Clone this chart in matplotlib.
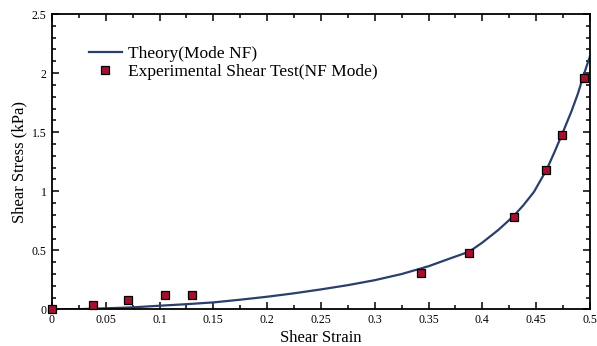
import matplotlib
matplotlib.use("Agg")
import matplotlib.pyplot as plt
from matplotlib.ticker import MultipleLocator, FormatStrFormatter

# theory curve
theory_strain = [0, 0.025, 0.05, 0.075, 0.1, 0.125, 0.15, 0.175, 0.2, 0.225, 0.25, 0.275,
                 0.3, 0.325, 0.35, 0.367, 0.388, 0.400, 0.415, 0.429, 0.438, 0.448, 0.460,
                 0.467, 0.474, 0.483, 0.489, 0.493, 0.497, 0.5]
theory_stress = [0, 0.003, 0.01, 0.018, 0.032, 0.045, 0.060, 0.083, 0.108, 0.137, 0.17, 0.206,
                 0.248, 0.30, 0.366, 0.422, 0.49, 0.566, 0.674, 0.79, 0.88, 0.995, 1.187,
                 1.33, 1.48, 1.68, 1.83, 1.95, 2.06, 2.14]

# experimental shear test points
exp_strain = [0, 0.038, 0.071, 0.105, 0.130, 0.343, 0.388, 0.429, 0.4595, 0.474, 0.4946]
exp_stress = [0, 0.04, 0.08, 0.124, 0.124, 0.305, 0.476, 0.779, 1.179, 1.48, 1.958]

plt.rcParams["font.family"] = ["Liberation Serif", "DejaVu Serif"]

fig = plt.figure(figsize=(5.97, 3.46), dpi=100)
ax = fig.add_axes([0.0871, 0.1055, 0.901, 0.854])

ax.plot(theory_strain, theory_stress, color="#2b3f6b", lw=1.6, label="Theory(Mode NF)", zorder=2)
ax.plot(exp_strain, exp_stress, ls="none", marker="s", ms=6, mfc="#a3112e", mec="black",
        mew=0.9, label="Experimental Shear Test(NF Mode)", zorder=3, clip_on=False)

ax.set_xlim(0, 0.5)
ax.set_ylim(0, 2.5)
ax.xaxis.set_major_locator(MultipleLocator(0.05))
ax.xaxis.set_minor_locator(MultipleLocator(0.025))
ax.yaxis.set_major_locator(MultipleLocator(0.5))
ax.yaxis.set_minor_locator(MultipleLocator(0.1))
ax.xaxis.set_major_formatter(FormatStrFormatter("%g"))
ax.yaxis.set_major_formatter(FormatStrFormatter("%g"))

ax.tick_params(which="both", direction="in", top=True, right=True, labelsize=8.5, width=1.1)
ax.tick_params(which="major", length=5)
ax.tick_params(which="minor", length=3)
ax.tick_params(axis="x", which="major", pad=3)
ax.tick_params(axis="y", which="major", pad=4)
for s in ax.spines.values():
    s.set_linewidth(1.3)

ax.set_xlabel("Shear Strain", fontsize=12, labelpad=3)
ax.set_ylabel("Shear Stress (kPa)", fontsize=12, labelpad=3)

ax.legend(loc="upper left", bbox_to_anchor=(0.055, 0.915), frameon=False, fontsize=12.5,
          handlelength=1.9, handletextpad=0.35, labelspacing=0.12, borderaxespad=0)

fig.savefig("out.png", dpi=100)
